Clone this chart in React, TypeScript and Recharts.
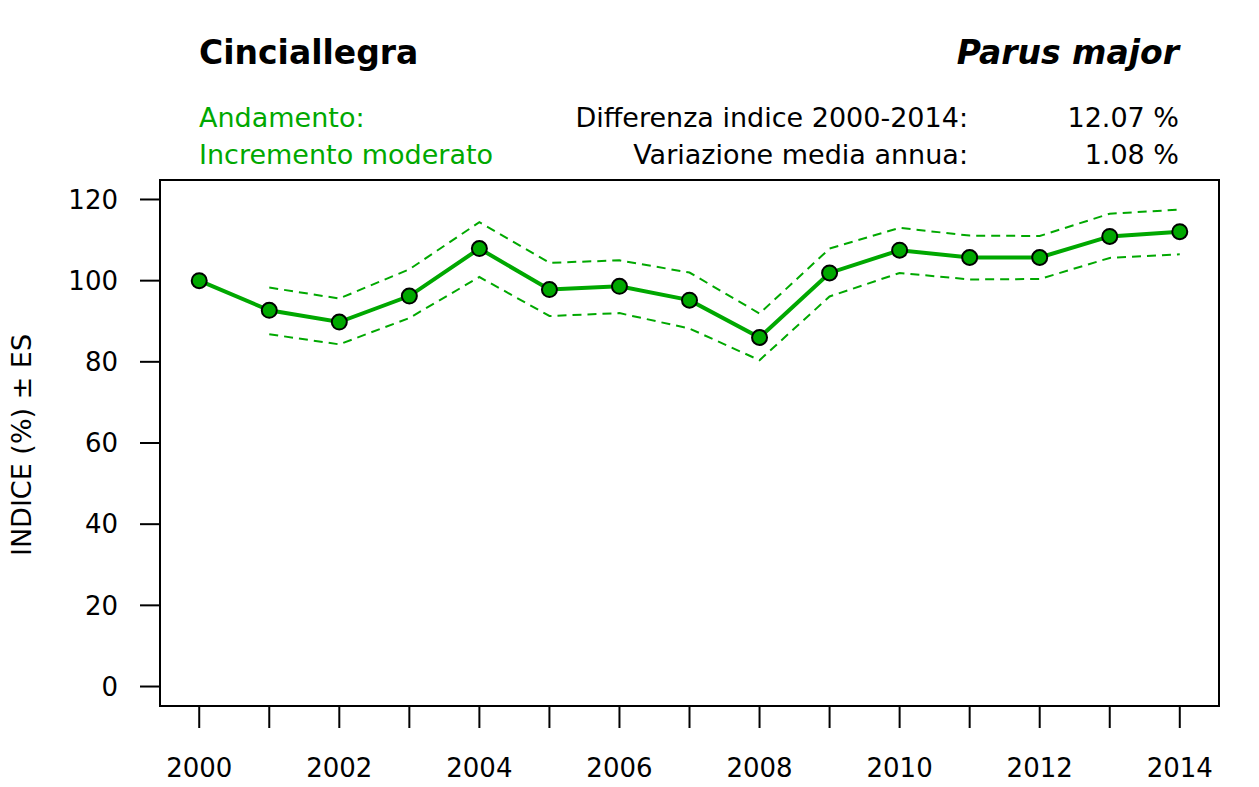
import React from "react";
import { LineChart, Line, XAxis, YAxis, ReferenceArea } from "recharts";

const years = [2000, 2001, 2002, 2003, 2004, 2005, 2006, 2007, 2008, 2009, 2010, 2011, 2012, 2013, 2014];
const indexValues = [100, 92.7, 89.8, 96.2, 107.9, 97.8, 98.6, 95.2, 86.0, 101.9, 107.5, 105.7, 105.7, 110.9, 112.07];
const upperValues = [null, 98.3, 95.6, 102.8, 114.4, 104.4, 105.0, 102.0, 91.9, 107.9, 113.0, 111.1, 111.0, 116.5, 117.5];
const lowerValues = [null, 86.8, 84.3, 90.8, 100.9, 91.3, 92.0, 88.2, 80.4, 96.1, 101.9, 100.3, 100.4, 105.6, 106.5];
const yTicks = [0, 20, 40, 60, 80, 100, 120];

const title = "Cinciallegra";
const species = "Parus major";
const trendLabel = "Andamento:";
const trendValue = "Incremento moderato";
const diffLabel = "Differenza indice 2000-2014:";
const diffValue = "12.07 %";
const annualLabel = "Variazione media annua:";
const annualValue = "1.08 %";
const yTitle = "INDICE (%) ± ES";

const GREEN = "#00a800";
const FONT = "'DejaVu Sans', Verdana, sans-serif";

const data = years.map((y, i) => ({
  year: y,
  idx: indexValues[i],
  upper: upperValues[i],
  lower: lowerValues[i],
}));

const xDomain = [1999.44, 2014.56];
const yDomain = [-4.8, 124.8];

export default function App() {
  return (
    <div style={{ position: "absolute", left: 0, top: 0, width: 1259, height: 787, background: "#fff" }}>
      <LineChart
        width={1259}
        height={787}
        data={data}
        margin={{ top: 180, right: 40, bottom: 0, left: 0 }}
      >
        <XAxis
          dataKey="year"
          type="number"
          domain={xDomain}
          ticks={years}
          interval={0}
          allowDataOverflow
          axisLine={false}
          tickSize={22}
          tickMargin={31}
          height={81}
          tickLine={{ stroke: "#000", strokeWidth: 2 }}
          tick={{ fill: "#000", fontSize: 26, fontFamily: FONT }}
          tickFormatter={(v: number) => (v % 2 === 0 ? String(v) : "")}
        />
        <YAxis
          type="number"
          domain={yDomain}
          ticks={yTicks}
          interval={0}
          allowDataOverflow
          axisLine={false}
          width={160}
          tickSize={20}
          tickMargin={22}
          tickLine={{ stroke: "#000", strokeWidth: 2 }}
          tick={{ fill: "#000", fontSize: 26, fontFamily: FONT }}
        />
        <ReferenceArea
          x1={xDomain[0]}
          x2={xDomain[1]}
          y1={yDomain[0]}
          y2={yDomain[1]}
          fill="none"
          fillOpacity={0}
          stroke="#000"
          strokeWidth={2}
          ifOverflow="visible"
        />
        <Line
          dataKey="upper"
          stroke={GREEN}
          strokeWidth={2}
          strokeDasharray="9 6"
          dot={false}
          activeDot={false}
          isAnimationActive={false}
          connectNulls={false}
        />
        <Line
          dataKey="lower"
          stroke={GREEN}
          strokeWidth={2}
          strokeDasharray="9 6"
          dot={false}
          activeDot={false}
          isAnimationActive={false}
          connectNulls={false}
        />
        <Line
          dataKey="idx"
          stroke={GREEN}
          strokeWidth={4}
          dot={{ r: 7.5, fill: GREEN, stroke: "#000", strokeWidth: 2 }}
          activeDot={false}
          isAnimationActive={false}
        />
      </LineChart>
      <svg
        width={1259}
        height={787}
        style={{ position: "absolute", left: 0, top: 0, pointerEvents: "none" }}
        fontFamily={FONT}
      >
        <text x={199} y={64} fontSize={33} fontWeight="bold" fill="#000">{title}</text>
        <text x={1179} y={64} fontSize={33} fontWeight="bold" fontStyle="italic" textAnchor="end" fill="#000">{species}</text>
        <text x={199} y={127} fontSize={27} fill={GREEN}>{trendLabel}</text>
        <text x={199} y={164} fontSize={27} fill={GREEN}>{trendValue}</text>
        <text x={968} y={127} fontSize={27} textAnchor="end" fill="#000">{diffLabel}</text>
        <text x={1179} y={127} fontSize={27} textAnchor="end" fill="#000">{diffValue}</text>
        <text x={968} y={164} fontSize={27} textAnchor="end" fill="#000">{annualLabel}</text>
        <text x={1179} y={164} fontSize={27} textAnchor="end" fill="#000">{annualValue}</text>
        <text x={31} y={445} fontSize={27} textAnchor="middle" fill="#000" transform="rotate(-90 31 445)">{yTitle}</text>
      </svg>
    </div>
  );
}
